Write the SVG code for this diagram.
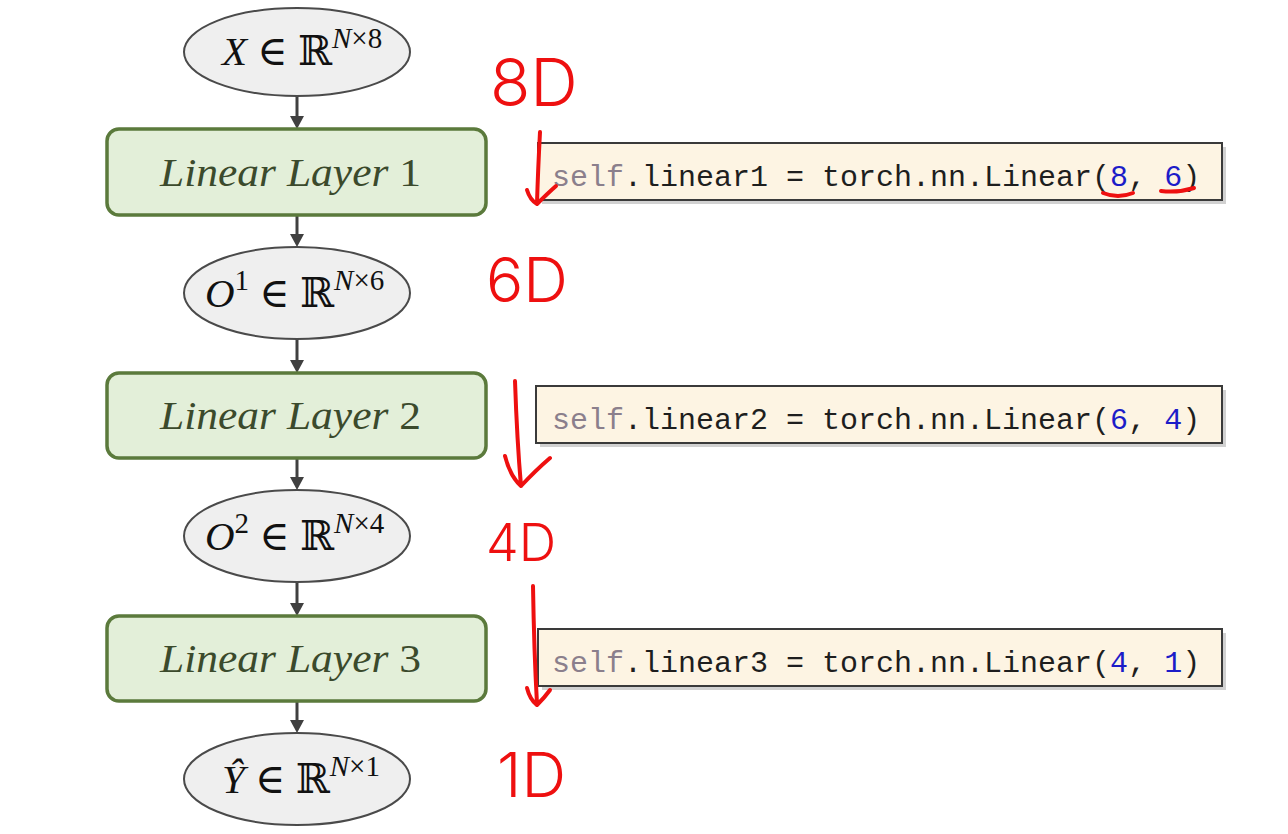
<svg xmlns="http://www.w3.org/2000/svg" width="1288" height="834" viewBox="0 0 1288 834">
<style>
.ell{fill:#efefef;stroke:#4a4a4a;stroke-width:2}
.box{fill:#e3efd9;stroke:#5b7a3c;stroke-width:3.5}
.lbl{font-family:"Liberation Serif","DejaVu Serif",serif;font-size:41px;fill:#3b4a2c}
.math{font-family:"Liberation Serif","DejaVu Serif",serif;font-size:41px;fill:#111}
.it{font-style:italic}
.sup{font-size:29px}
.con{stroke:#404040;stroke-width:3;fill:none}
.code{font-family:"Liberation Mono","DejaVu Sans Mono",monospace;font-size:30px;fill:#1e1e1e;white-space:pre}
.cbox{fill:#fdf4e3;stroke:#3a3a3a;stroke-width:2}
.shadow{fill:#9a9a9a;opacity:0.45}
.slf{fill:#8b7f8c}
.num{fill:#1c1cc8}
.hand{font-family:Inter,"Liberation Sans",sans-serif;font-weight:300;fill:#ee1010}
.red{stroke:#ee1010;stroke-width:4;fill:none;stroke-linecap:round;stroke-linejoin:round}
</style>
<rect width="1288" height="834" fill="#ffffff"/>

<g id="connectors">
<line class="con" x1="297" y1="97" x2="297" y2="120"/><path d="M290,116 L304,116 L297,129 Z" fill="#404040"/>
<line class="con" x1="297" y1="216" x2="297" y2="238"/><path d="M290,234 L304,234 L297,247 Z" fill="#404040"/>
<line class="con" x1="297" y1="339" x2="297" y2="364"/><path d="M290,360 L304,360 L297,373 Z" fill="#404040"/>
<line class="con" x1="297" y1="459" x2="297" y2="481"/><path d="M290,477 L304,477 L297,490 Z" fill="#404040"/>
<line class="con" x1="297" y1="582" x2="297" y2="607"/><path d="M290,603 L304,603 L297,616 Z" fill="#404040"/>
<line class="con" x1="297" y1="701" x2="297" y2="724"/><path d="M290,720 L304,720 L297,733 Z" fill="#404040"/>
</g>

<g id="input">
<ellipse class="ell" cx="297" cy="52" rx="113" ry="44"/>
<text class="math" x="222" y="65"><tspan class="it">X</tspan> ∈ ℝ<tspan class="sup it" dy="-17">N</tspan><tspan class="sup">×8</tspan></text>
</g>

<g id="layer1">
<rect class="box" x="107" y="129" width="379" height="86" rx="12"/>
<text class="lbl" x="160" y="186" textLength="261" lengthAdjust="spacingAndGlyphs"><tspan class="it">Linear Layer </tspan>1</text>
</g>

<g id="o1">
<ellipse class="ell" cx="297" cy="293" rx="113" ry="46"/>
<text class="math" x="205" y="307"><tspan class="it">O</tspan><tspan class="sup" dy="-17">1</tspan><tspan dy="17"> ∈ ℝ</tspan><tspan class="sup it" dy="-17">N</tspan><tspan class="sup">×6</tspan></text>
</g>

<g id="layer2">
<rect class="box" x="107" y="373" width="379" height="85" rx="12"/>
<text class="lbl" x="160" y="429" textLength="261" lengthAdjust="spacingAndGlyphs"><tspan class="it">Linear Layer </tspan>2</text>
</g>

<g id="o2">
<ellipse class="ell" cx="297" cy="536" rx="113" ry="46"/>
<text class="math" x="205" y="550"><tspan class="it">O</tspan><tspan class="sup" dy="-17">2</tspan><tspan dy="17"> ∈ ℝ</tspan><tspan class="sup it" dy="-17">N</tspan><tspan class="sup">×4</tspan></text>
</g>

<g id="layer3">
<rect class="box" x="107" y="616" width="379" height="85" rx="12"/>
<text class="lbl" x="160" y="672" textLength="261" lengthAdjust="spacingAndGlyphs"><tspan class="it">Linear Layer </tspan>3</text>
</g>

<g id="output">
<ellipse class="ell" cx="297" cy="779" rx="113" ry="46"/>
<text class="math" x="222" y="793"><tspan class="it">Ŷ</tspan> ∈ ℝ<tspan class="sup it" dy="-17">N</tspan><tspan class="sup">×1</tspan></text>
</g>

<g id="code1">
<rect class="shadow" x="542" y="147" width="684" height="57"/>
<rect class="cbox" x="538" y="143" width="684" height="57"/>
<text class="code" x="552" y="186"><tspan class="slf">self</tspan>.linear1 = torch.nn.Linear(<tspan class="num">8</tspan>, <tspan class="num">6</tspan>)</text>
</g>
<g id="code2">
<rect class="shadow" x="540" y="390" width="686" height="57"/>
<rect class="cbox" x="536" y="386" width="686" height="57"/>
<text class="code" x="552" y="429"><tspan class="slf">self</tspan>.linear2 = torch.nn.Linear(<tspan class="num">6</tspan>, <tspan class="num">4</tspan>)</text>
</g>
<g id="code3">
<rect class="shadow" x="542" y="633" width="684" height="57"/>
<rect class="cbox" x="538" y="629" width="684" height="57"/>
<text class="code" x="552" y="672"><tspan class="slf">self</tspan>.linear3 = torch.nn.Linear(<tspan class="num">4</tspan>, <tspan class="num">1</tspan>)</text>
</g>

<g id="annotations">
<text class="hand" x="490" y="106" font-size="66">8D</text>
<text class="hand" x="486" y="302" font-size="62">6D</text>
<text class="hand" x="486" y="561" font-size="52">4D</text>
<text class="hand" x="497" y="797" font-size="62">1D</text>
<path class="red" d="M540,132 Q538,170 537,203 M527,190 Q530,200 537,204 Q548,193 556,186"/>
<path class="red" d="M515,381 Q517,440 521,486 M505,456 Q510,476 521,486 Q536,470 550,458"/>
<path class="red" d="M533,586 Q534,650 537,704 M527,688 Q530,700 537,705 Q545,697 550,690"/>
<path class="red" d="M1103,193 Q1118,199 1133,193"/>
<path class="red" d="M1161,191 Q1178,193 1194,188"/>
</g>
</svg>
